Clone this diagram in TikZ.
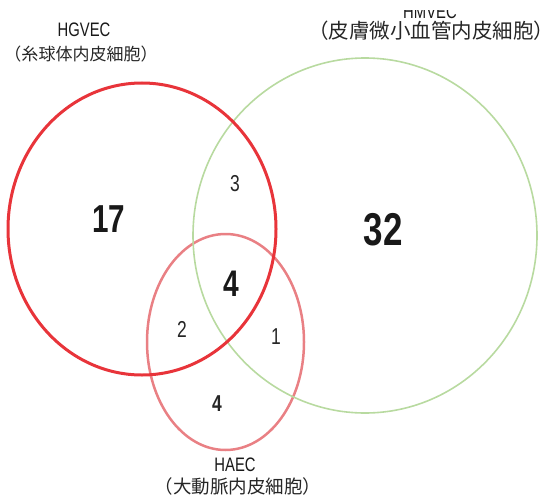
\documentclass[tikz,border=0pt]{standalone}
\usepackage{fontspec}
\setmainfont{Liberation Sans}
\newfontfamily\cjk{Noto Sans CJK JP}
\newfontfamily\cond[FakeStretch=0.76]{Liberation Sans}
\begin{document}
\begin{tikzpicture}[x=1pt,y=-1pt,
  setred/.style={draw={rgb,255:red,232;green,52;blue,58},line width=3pt},
  setgreen/.style={draw={rgb,255:red,184;green,218;blue,160},line width=1.6pt},
  setpink/.style={draw={rgb,255:red,233;green,128;blue,132},line width=2.5pt},
  bignum/.style={font=\cond\bfseries, text=black!90, inner sep=0pt},
  smallnum/.style={font=\cond\fontsize{23}{23}\selectfont, text=black!85, inner sep=0pt},
  caplabel/.style={font=\cond\fontsize{19.5}{20}\selectfont, text=black!90, inner sep=0pt},
  jplabel/.style={text=black!85, inner sep=0pt}]
\useasboundingbox (0,0) rectangle (540,500);
% sets
\draw[setpink] (225.5,342) ellipse [x radius=78.5, y radius=108];
\draw[setgreen] (365,235.5) ellipse [x radius=172, y radius=177.5];
\draw[setred] (142,229) ellipse [x radius=134, y radius=146];
% counts
\node[bignum, font=\cond\bfseries\fontsize{39}{39}\selectfont] (n17) at (109,219) {17};
\node[bignum, font=\cond\bfseries\fontsize{46}{46}\selectfont] (n32) at (383,230) {32};
\node[bignum, font=\cond\bfseries\fontsize{37}{37}\selectfont] (n4c) at (231,284) {4};
\node[smallnum] (n3) at (235,184) {3};
\node[smallnum] (n2) at (182,329) {2};
\node[smallnum] (n1) at (276,337) {1};
\node[smallnum, font=\cond\bfseries\fontsize{23}{23}\selectfont] (n4b) at (217,404) {4};
% labels
\node[caplabel] (hgvec) at (84,30) {HGVEC};
\node[jplabel, font=\cjk\fontsize{17}{17}\selectfont] (hgvecjp) at (81,54) {（糸球体内皮細胞）};
\begin{scope}
\clip (300,10.5) rectangle (540,60);
\node[caplabel] (hmvec) at (430,11.5) {HMVEC};
\end{scope}
\node[jplabel, font=\cjk\fontsize{20.5}{20.5}\selectfont] (hmvecjp) at (431,31) {（皮膚微小血管内皮細胞）};
\node[caplabel] (haec) at (235,465) {HAEC};
\node[jplabel, font=\cjk\fontsize{18.5}{18.5}\selectfont] (haecjp) at (238,486) {（大動脈内皮細胞）};
\end{tikzpicture}
\end{document}
